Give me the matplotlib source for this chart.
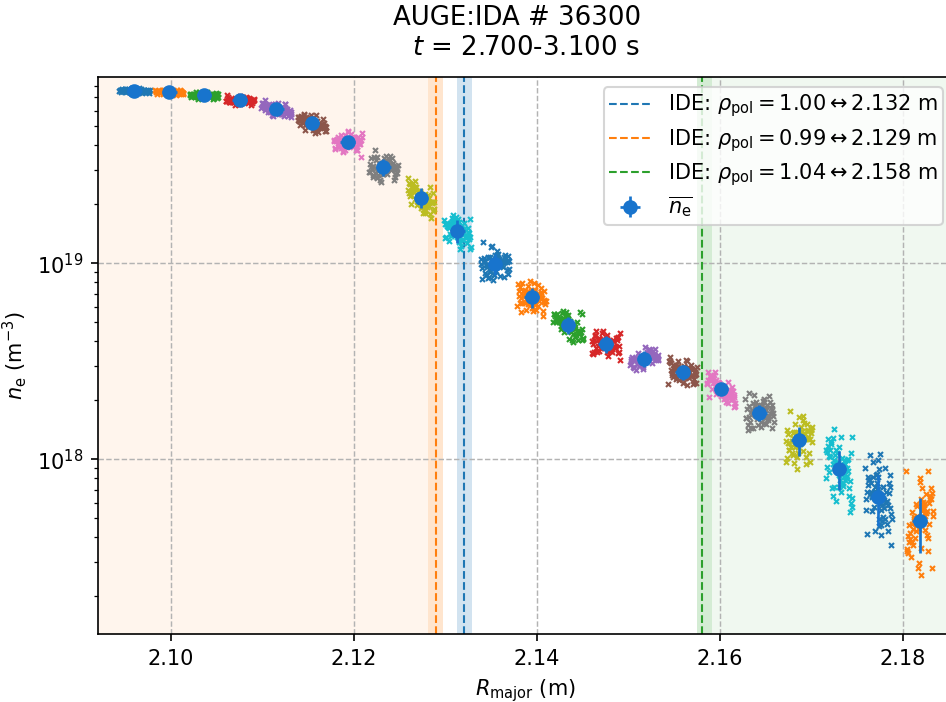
import numpy as np
import matplotlib
matplotlib.use("Agg")
import matplotlib.pyplot as plt

# ---------------- data ----------------
R_mean = [2.0960, 2.0998, 2.1036, 2.1075, 2.1115, 2.1154, 2.1193, 2.1232,
          2.1273, 2.1313, 2.1354, 2.1394, 2.1434, 2.1475, 2.1517, 2.1559,
          2.1601, 2.1643, 2.1686, 2.1730, 2.1773, 2.1818]
ne_log_mean = [19.879, 19.872, 19.855, 19.830, 19.786, 19.714, 19.617, 19.488,
               19.333, 19.165, 18.995, 18.825, 18.685, 18.588, 18.513, 18.445,
               18.359, 18.238, 18.097, 17.952, 17.809, 17.685]
ne_err = [2.0e18, 2.0e18, 2.0e18, 2.2e18, 2.5e18, 3.0e18, 3.0e18, 3.0e18,
          2.5e18, 2.0e18, 1.2e18, 8.0e17, 5.0e17, 4.0e17, 3.0e17, 2.5e17,
          1.4e17, 1.7e17, 2.1e17, 2.0e17, 1.9e17, 1.5e17]
R_err = 0.0008
# cloud spread of the raw samples per channel (half width in R, std in log10 ne)
cloud_dR = [0.0017, 0.0016, 0.0016, 0.0016, 0.0017, 0.0016, 0.0016, 0.0016,
            0.0015, 0.0015, 0.0016, 0.0016, 0.0017, 0.0016, 0.0016, 0.0016,
            0.0016, 0.0016, 0.0015, 0.0015, 0.0015, 0.0015]
cloud_sig = [0.007, 0.007, 0.009, 0.012, 0.020, 0.024, 0.032, 0.040,
             0.044, 0.044, 0.050, 0.045, 0.043, 0.036, 0.033, 0.036,
             0.042, 0.052, 0.075, 0.105, 0.118, 0.140]
cloud_tilt = 0.35
# normalised sample offsets inside a cloud (R direction, ne direction)
U = [-0.92, 0.31, -0.47, 0.83, 0.08, -0.21, 0.64, -0.73, 0.97, -0.36,
     0.44, -0.86, 0.19, -0.12, 0.71, -0.58, 0.03, 0.55, -0.43, 0.88,
     -0.27, 0.37, -0.96, 0.14, -0.52, 0.67, -0.16, 0.41, -0.77, 0.92,
     -0.06, 0.26, -0.63, 0.76, -0.31, 0.51, -0.81, 0.01, 0.59, -0.39,
     0.22, -0.68, 0.86, -0.09, 0.47, -0.55, 0.12, -0.88, 0.34, -0.24,
     0.79, -0.44, 0.05, 0.62, -0.71, 0.29, -0.02, 0.95, -0.33, 0.17]
V = [0.21, -0.84, 1.12, -0.31, 0.52, -1.38, 0.93, -0.08, 0.41, -0.62,
     1.58, -1.02, 0.02, 0.71, -0.49, 1.29, -1.71, 0.33, -0.18, 0.82,
     -1.19, 0.61, -0.39, 0.98, -0.91, 0.12, 1.87, -0.71, 0.46, -1.52,
     0.27, -0.04, 1.21, -1.11, 0.66, -0.34, 0.87, -1.96, 0.16, -0.56,
     -0.23, 0.48, -0.67, 1.04, -1.27, 0.37, -0.12, 0.74, -0.81, 1.43,
     -0.44, 0.09, -1.61, 0.58, -0.28, 1.71, -0.97, 0.29, -0.05, 0.53]

# separatrix estimates: (R, band low, band high)
sep_R = [2.132, 2.129, 2.158]
sep_lo = [2.1313, 2.1281, 2.1575]
sep_hi = [2.1329, 2.1297, 2.1591]
sep_rho = ["1.00", "0.99", "1.04"]
sep_colors = ["C0", "C1", "C2"]

xticks = [2.10, 2.12, 2.14, 2.16, 2.18]
xticklabels = ["2.10", "2.12", "2.14", "2.16", "2.18"]
xlim = (2.09202, 2.18546)
ylim = (10 ** 17.109, 10 ** 19.949)

# ---------------- figure ----------------
DPI = 150
fig = plt.figure(figsize=(946 / DPI, 702 / DPI), dpi=DPI)
ax = fig.add_axes([98 / 946, (702 - 634) / 702, (953 - 98) / 946, (634 - 77) / 702])

ax.set_xlim(*xlim)
ax.set_yscale("log")
ax.set_ylim(*ylim)

# shading
ax.axvspan(xlim[0], sep_lo[1], color="C1", alpha=0.07, lw=0, zorder=0)
ax.axvspan(sep_hi[2], xlim[1], color="C2", alpha=0.07, lw=0, zorder=0)
handles = []
labels = []
for r, lo, hi, rho, c in zip(sep_R, sep_lo, sep_hi, sep_rho, sep_colors):
    ax.axvspan(lo, hi, color=c, alpha=0.2, lw=0, zorder=0.5)
    ln = ax.axvline(r, color=c, ls="--", lw=1.0, zorder=2)
    handles.append(ln)
    labels.append(r"IDE: $\rho_\mathrm{pol} = %s \leftrightarrow %.3f$ m" % (rho, r))

ax.grid(True, which="major", ls="--", color="0.7", lw=0.7)

# raw sample clouds
R_arr = np.array(R_mean)
L_arr = np.array(ne_log_mean)
slope = np.gradient(L_arr, R_arr)
U_arr = np.array(U)
V_arr = np.array(V)
for i in range(len(R_mean)):
    v = np.roll(V_arr, 7 * i)
    xs = R_arr[i] + U_arr * cloud_dR[i]
    ls_ = L_arr[i] + cloud_tilt * slope[i] * U_arr * cloud_dR[i] + v * cloud_sig[i]
    ax.plot(xs, 10 ** ls_, ls="none", marker="x", ms=2.4, mew=1.0,
            color="C%d" % (i % 10), zorder=3)

# means
eb = ax.errorbar(R_arr, 10 ** L_arr, yerr=ne_err, xerr=R_err, fmt="o",
                 color="#1874cd", ms=6, elinewidth=1.3, capsize=0, zorder=5)
handles.append(eb)
labels.append(r"$\overline{n_\mathrm{e}}$")

ax.legend(handles, labels, loc="upper right", fontsize=10,
          borderpad=0.25, labelspacing=0.35, borderaxespad=0.5)

ax.set_xticks(xticks)
ax.set_xticklabels(xticklabels)
ax.set_xlabel(r"$R_\mathrm{major}$ (m)", fontsize=10)
ax.set_ylabel(r"$n_\mathrm{e}$ (m$^{-3}$)", fontsize=10)
ax.set_title("AUGE:IDA # 36300  \n$t$ = 2.700-3.100 s", fontsize=12.5, pad=10.5)

fig.savefig("out.png", dpi=DPI)
